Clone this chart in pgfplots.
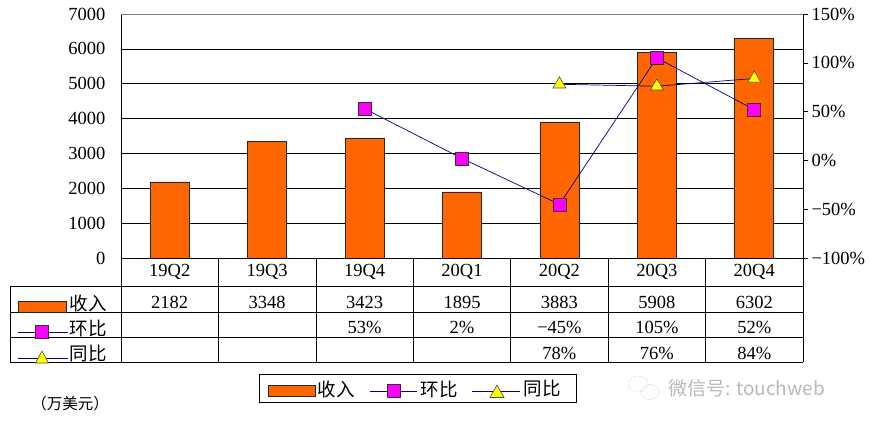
\documentclass[border=0pt]{standalone}
\usepackage{pgfplots}
\pgfplotsset{compat=1.18}
\usepackage{fontspec}
\setmainfont{Liberation Serif}
\newfontfamily\cjk{Noto Sans CJK SC}
\definecolor{barorange}{HTML}{FF6600}
\definecolor{navyline}{HTML}{000080}
\definecolor{mag}{HTML}{FF00FF}
\definecolor{yel}{HTML}{FFFF00}
\newcommand{\fs}{\fontsize{18.5}{20}\selectfont}
\begin{document}
\begin{tikzpicture}
\path[use as bounding box] (0pt,0pt) rectangle (870pt,-429pt);
% left axis: revenue
\begin{axis}[
  at={(121pt,-258pt)}, anchor=south west,
  scale only axis, width=682pt, height=244pt,
  xmin=-0.5, xmax=6.5, ymin=0, ymax=7000,
  ytick={0,1000,...,7000}, xtick=\empty,
  axis y line*=left, axis x line=none,
  y axis line style={black, line width=0.6pt, -},
  major tick length=0pt,
  ymajorgrids, grid style={black, line width=0.6pt},
  /pgf/number format/assume math mode=true,
  /pgf/number format/1000 sep={}, scaled y ticks=false,
  yticklabel style={font=\fs, anchor=east, xshift=-12pt},
  clip=false,
]
\addplot[ybar, bar width=39pt, fill=barorange, draw=black!85, line width=0.6pt]
  coordinates {(0,2182) (1,3348) (2,3423) (3,1895) (4,3883) (5,5908) (6,6302)};
\end{axis}
% right axis: growth rates
\begin{axis}[
  at={(121pt,-258pt)}, anchor=south west,
  scale only axis, width=682pt, height=244pt,
  xmin=-0.5, xmax=6.5, ymin=-100, ymax=150,
  ytick={-100,-50,0,50,100,150},
  yticklabels={−100\%,−50\%,0\%,50\%,100\%,150\%},
  xtick=\empty,
  axis y line*=right, axis x line=none,
  y axis line style={black, line width=0.6pt, -},
  tick align=outside, major tick length=5pt,
  tick style={black, line width=0.6pt},
  yticklabel style={font=\fs, anchor=west},
  clip=false,
]
\addplot[navyline, line width=0.7pt, mark=square*, mark size=6.5pt,
  mark options={fill=mag, draw=black!80, line width=0.6pt}]
  coordinates {(2,53) (3,2) (4,-45) (5,105) (6,52)};
\addplot[navyline, line width=0.7pt, mark=triangle*, mark size=7.5pt,
  mark options={fill=yel, draw=black!70, line width=0.6pt}]
  coordinates {(4,78) (5,76) (6,84)};
\end{axis}
\begin{scope}[x=1pt, y=-1pt]
% frame
\draw[gray, line width=0.6pt] (121,14)--(803,14);
\draw[black, line width=0.6pt] (121,258)--(803,258);
% data table grid
\foreach \yy in {286,312,337,362} \draw[black, line width=0.6pt] (10,\yy)--(803,\yy);
\draw[black, line width=0.6pt] (10,286)--(10,362);
\foreach \xx in {121,218.43,315.86,413.29,510.71,608.14,705.57,803} \draw[black, line width=0.6pt] (\xx,258)--(\xx,362);
% category labels
\foreach \xx/\lab in {169.71/19Q2,267.14/19Q3,364.57/19Q4,462/20Q1,559.43/20Q2,656.86/20Q3,754.29/20Q4}
  \node[font=\fs] at (\xx,272) {\lab};
% revenue row
\foreach \xx/\lab in {169.71/2182,267.14/3348,364.57/3423,462/1895,559.43/3883,656.86/5908,754.29/6302}
  \node[font=\fs] at (\xx,302) {\lab};
% QoQ row
\foreach \xx/\lab in {364.57/53\%,462/2\%,559.43/−45\%,656.86/105\%,754.29/52\%}
  \node[font=\fs] at (\xx,327.5) {\lab};
% YoY row
\foreach \xx/\lab in {559.43/78\%,656.86/76\%,754.29/84\%}
  \node[font=\fs] at (\xx,353) {\lab};
% row keys
\filldraw[fill=barorange, draw=black!85, line width=0.6pt] (18,301) rectangle (66,312);
\node[font=\fs\cjk] at (88,303) {收入};
\draw[navyline, line width=0.7pt] (18,332)--(68,332);
\filldraw[fill=mag, draw=black!80, line width=0.6pt] (35.5,325.5) rectangle (48.5,338.5);
\node[font=\fs\cjk] at (88,328) {环比};
\draw[navyline, line width=0.7pt] (18,358)--(68,358);
\filldraw[fill=yel, draw=black!70, line width=0.6pt] (35.5,363)--(48.5,363)--(42,351)--cycle;
\node[font=\fs\cjk] at (88,354) {同比};
% legend
\draw[black, line width=0.8pt] (259,374) rectangle (576,402);
\filldraw[fill=barorange, draw=black!85, line width=0.6pt] (268,385) rectangle (315,396);
\node[font=\fs\cjk] at (336,389) {收入};
\draw[navyline, line width=0.7pt] (370,391)--(417,391);
\filldraw[fill=mag, draw=black!80, line width=0.6pt] (387,384.5) rectangle (400,397.5);
\node[font=\fs\cjk] at (439,389) {环比};
\draw[navyline, line width=0.7pt] (472,391)--(520,391);
\filldraw[fill=yel, draw=black!70, line width=0.6pt] (490,397.5)--(504,397.5)--(497,385)--cycle;
\node[font=\fs\cjk] at (542,389) {同比};
% unit
\node[font=\fontsize{15.5}{17}\selectfont\cjk] at (70,404) {（万美元）};
% watermark
\draw[gray!45, line width=0.6pt, densely dotted] (638,384) ellipse (10 and 8);
\draw[gray!45, line width=0.6pt, densely dotted] (650,392) ellipse (9 and 7.5);
\node[font=\fontsize{19}{21}\selectfont\cjk, text=gray!55, anchor=west, inner sep=0] at (668,388) {微信号: touchweb};
\end{scope}
\end{tikzpicture}
\end{document}
